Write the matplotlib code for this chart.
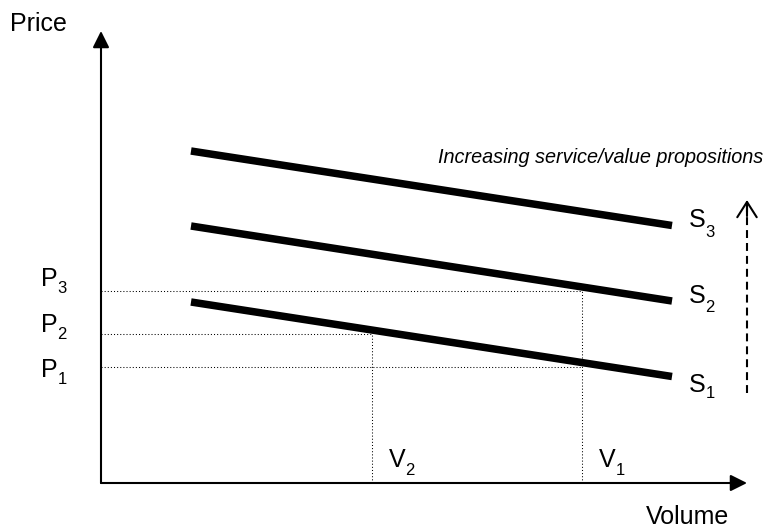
import matplotlib
matplotlib.use("Agg")
import matplotlib.pyplot as plt
from matplotlib.transforms import offset_copy

plt.rcParams['font.family'] = ['Liberation Sans', 'DejaVu Sans']

# ---- data (diagram units, origin at axes corner) ----
curve_names = ["S1", "S2", "S3"]
curve_x = [90, 571]                       # start / end volume of each supply line
curve_start_price = [181, 257, 332]
curve_end_price = [106.5, 182, 257.5]
price_names = ["P1", "P2", "P3"]
price_levels = [116, 149, 192]
price_volumes = [481, 271, 481]           # where each price line meets a curve
volume_names = ["V2", "V1"]
volume_levels = [271, 481]
volume_prices = [149, 192]
axis_x_max = 646
axis_y_max = 452
trend_arrow = [90, 283]                   # dashed arrow bottom / top
annotation_text = "Increasing service/value propositions"

fig = plt.figure(figsize=(7.67, 5.28), dpi=100)
ax = fig.add_axes([0, 0, 1, 1])
ax.set_xlim(-101, 666)
ax.set_ylim(-45, 483)
ax.axis('off')

# axes with arrows
arrow_kw = dict(arrowstyle='-|>,head_length=10,head_width=5', mutation_scale=1,
                color='black', lw=1.5, shrinkA=0, shrinkB=0)
ax.annotate('', xy=(0, axis_y_max), xytext=(0, 0), arrowprops=arrow_kw)
ax.annotate('', xy=(axis_x_max, 0), xytext=(0, 0), arrowprops=arrow_kw)

# supply curves
for s0, s1 in zip(curve_start_price, curve_end_price):
    ax.plot(curve_x, [s0, s1], color='black', lw=5.4, solid_capstyle='butt')

# dotted guide lines
dot = dict(color='black', lw=0.75, linestyle=(0, (1, 2)))
for p, v in zip(price_levels, price_volumes):
    ax.plot([0, v], [p, p], **dot)
for v, p in zip(volume_levels, volume_prices):
    ax.plot([v, v], [0, p], **dot)

def sub_label(x, y, main, sub, dx_sub, dy_sub, size=18, subsize=12):
    ax.text(x, y, main, fontsize=size, ha='left', va='baseline')
    tr = offset_copy(ax.transData, fig=fig, x=dx_sub, y=-dy_sub, units='dots')
    ax.text(x, y, sub, fontsize=subsize, ha='left', va='baseline', transform=tr)

# price labels
p_base_off = [-10, 2, 5]
for name, p, off in zip(price_names, price_levels, p_base_off):
    sub_label(-60, p + off, name[0], name[1], 16.5, 7)

# volume labels
for name, v in zip(volume_names, volume_levels):
    sub_label(v + 17, 16, name[0], name[1], 16.5, 8)

# curve labels
s_base_off = [-15, -2, -1.5]
s_sub_drop = [6, 9, 10]
for name, e, off, d in zip(curve_names, curve_end_price, s_base_off, s_sub_drop):
    sub_label(curve_x[1] + 17, e + off, name[0], name[1], 16.5, d)

# axis titles
ax.text(-91, 452, "Price", fontsize=18, ha='left', va='baseline')
ax.text(545, -41, "Volume", fontsize=18, ha='left', va='baseline')

# trend arrow
ax.plot([axis_x_max, axis_x_max], [trend_arrow[0], trend_arrow[1] - 3], color='black',
        lw=1.5, linestyle=(0, (3.8, 2.4)), solid_capstyle='butt')
ax.annotate('', xy=(axis_x_max, trend_arrow[1]), xytext=(axis_x_max, trend_arrow[1] - 16),
            arrowprops=dict(arrowstyle='->,head_length=11,head_width=7', mutation_scale=1,
                            color='black', lw=1.5, shrinkA=0, shrinkB=0))
ax.text(662, 320, annotation_text, fontsize=14.3, style='italic', ha='right', va='baseline')

fig.savefig('out.png', dpi=100)
